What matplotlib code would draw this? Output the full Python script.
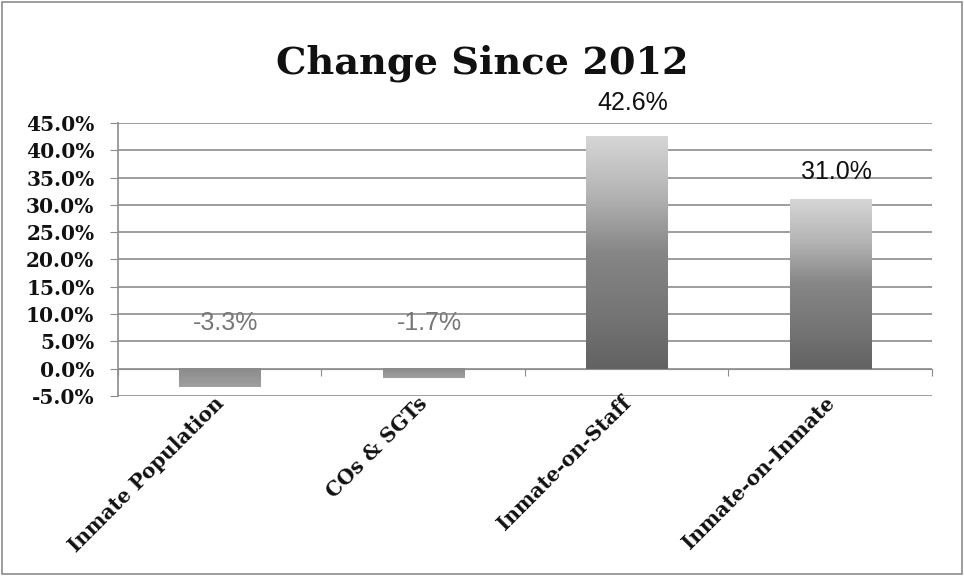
import matplotlib
matplotlib.use("Agg")
import matplotlib.pyplot as plt
import numpy as np
from matplotlib.colors import LinearSegmentedColormap
from matplotlib.patches import Rectangle

# data
categories = ["Inmate Population", "COs & SGTs", "Inmate-on-Staff", "Inmate-on-Inmate"]
changes = [-3.3, -1.7, 42.6, 31.0]
label_texts = ["-3.3%", "-1.7%", "42.6%", "31.0%"]
label_heights = [8.3, 8.3, 48.6, 36.0]   # where the data labels sit in the original
yticks = [-5, 0, 5, 10, 15, 20, 25, 30, 35, 40, 45]

fig = plt.figure(figsize=(9.64, 5.76), dpi=100)
ax = fig.add_axes([0.1224, 0.3125, 0.8444, 0.474])

# chart border
fig.patches.append(Rectangle((0.002, 0.003), 0.996, 0.994, transform=fig.transFigure,
                             fill=False, edgecolor="#8c8c8c", linewidth=1.2))

x = np.arange(len(categories))
bars = ax.bar(x, changes, width=0.4, color="none", zorder=2)

# gray gradient fill, dark at the base and light at the top
grad_cmap = LinearSegmentedColormap.from_list(
    "scan_gray", ["#626262", "#767676", "#868686", "#b4b4b4", "#d6d6d6"])
neg_cmap = LinearSegmentedColormap.from_list("neg_gray", ["#8a8a8a", "#a0a0a0"])
gradient = np.linspace(0, 1, 256).reshape(-1, 1)
for bar, val in zip(bars, changes):
    x0 = bar.get_x()
    x1 = x0 + bar.get_width()
    cmap = grad_cmap if val > 0 else neg_cmap
    ax.imshow(gradient, extent=[x0, x1, 0, val], origin="lower", aspect="auto",
              cmap=cmap, zorder=2)

for xi, txt, h, val in zip(x, label_texts, label_heights, changes):
    ax.text(xi + 0.03, h, txt, ha="center", va="center", fontsize=18,
            family="Liberation Sans", color="#777777" if val < 0 else "#111111",
            clip_on=False, zorder=4)

ax.set_xlim(-0.5, len(categories) - 0.5)
ax.set_ylim(-5, 45)
ax.set_yticks(yticks)
ax.set_yticklabels([f"{t:.1f}%" for t in yticks], fontsize=14.5,
                   family="DejaVu Serif", fontweight="bold", color="#111111")
ax.tick_params(axis="y", direction="out", length=6, color="#8c8c8c", pad=11)
ax.yaxis.grid(True, color="#8c8c8c", linewidth=1.2)
ax.set_axisbelow(True)

# horizontal axis sits at zero with marks between categories
ax.spines["bottom"].set_position(("data", 0))
ax.spines["bottom"].set_color("#8c8c8c")
ax.set_xticks(np.arange(len(categories) + 1) - 0.5)
ax.set_xticklabels([])
ax.tick_params(axis="x", direction="out", length=5, color="#8c8c8c")
ax.spines["left"].set_color("#8c8c8c")
ax.spines["left"].set_linewidth(1.2)
ax.spines["top"].set_visible(False)
ax.spines["right"].set_visible(False)

for xi, cat in zip(x, categories):
    ax.text(xi + 0.04, -4.4, cat, rotation=45, ha="right", va="top",
            fontsize=14.5, family="DejaVu Serif", fontweight="bold",
            color="#111111", clip_on=False)

fig.text(0.5, 0.89, "Change Since 2012", ha="center", va="center",
         fontsize=27.5, family="DejaVu Serif", fontweight="bold", color="#111111")

fig.savefig("out.png", dpi=100)
